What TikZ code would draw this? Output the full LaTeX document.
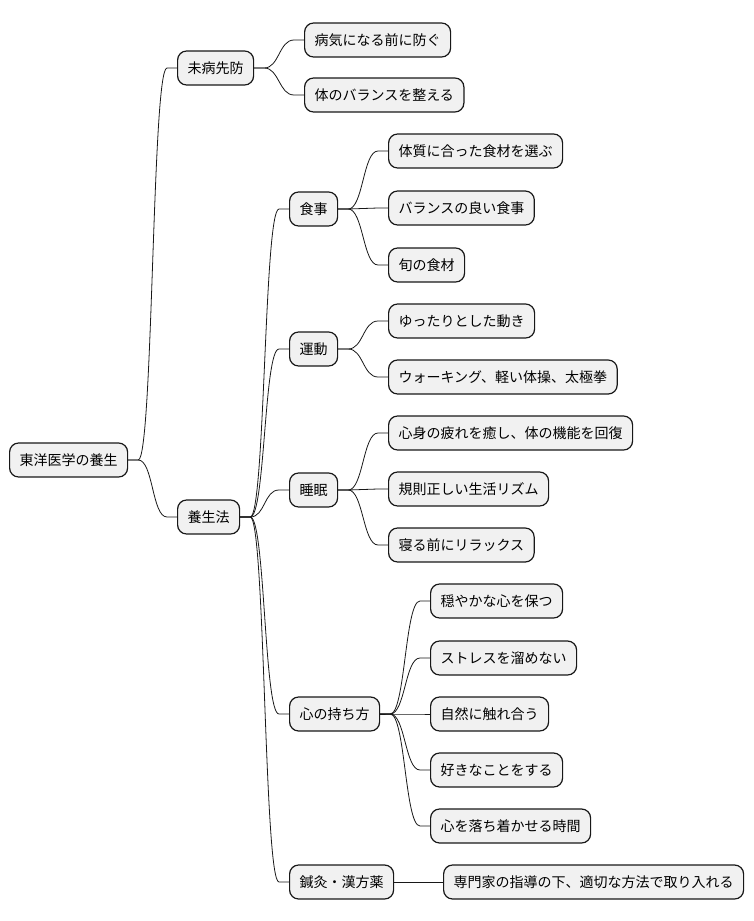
\documentclass[tikz,border=0pt]{standalone}
\usepackage{fontspec}
\setmainfont{Noto Sans CJK JP}
\definecolor{boxfill}{HTML}{F1F1F1}
\definecolor{boxline}{HTML}{181818}

\begin{document}
\begin{tikzpicture}[x=1pt,y=-1pt,
  main node/.style={draw=boxline,fill=boxfill,line width=1.2pt,rounded corners=9pt,
    anchor=west,minimum height=34pt,inner xsep=10pt,
    font=\fontsize{14pt}{16pt}\selectfont},
  branch/.style={draw=boxline,line width=0.8pt,
    to path={-- ++(10,0) .. controls +(15,0) and +(-15,0) .. ([xshift=-10pt]\tikztotarget.west) -- (\tikztotarget.west)}}]

  \useasboundingbox (0,0) rectangle (754,921);

  \node[main node] (0) at (9,460) {東洋医学の養生};

  \node[main node] (1) at (177,68) {未病先防};
  \node[main node] (2) at (177,517) {養生法};

  \node[main node] (11) at (304,40) {病気になる前に防ぐ};
  \node[main node] (12) at (304,95) {体のバランスを整える};

  \node[main node] (21) at (289,209) {食事};
  \node[main node] (22) at (289,349) {運動};
  \node[main node] (23) at (289,490) {睡眠};
  \node[main node] (24) at (289,714) {心の持ち方};
  \node[main node] (25) at (289,882) {鍼灸・漢方薬};

  \node[main node] (211) at (388,151) {体質に合った食材を選ぶ};
  \node[main node] (212) at (388,208) {バランスの良い食事};
  \node[main node] (213) at (388,265) {旬の食材};

  \node[main node] (221) at (388,321) {ゆったりとした動き};
  \node[main node] (222) at (388,377) {ウォーキング、軽い体操、太極拳};

  \node[main node] (231) at (388,433) {心身の疲れを癒し、体の機能を回復};
  \node[main node] (232) at (388,489) {規則正しい生活リズム};
  \node[main node] (233) at (388,545) {寝る前にリラックス};

  \node[main node] (241) at (430,601) {穏やかな心を保つ};
  \node[main node] (242) at (430,658) {ストレスを溜めない};
  \node[main node] (243) at (430,714) {自然に触れ合う};
  \node[main node] (244) at (430,770) {好きなことをする};
  \node[main node] (245) at (430,826) {心を落ち着かせる時間};

  \node[main node] (251) at (443,882) {専門家の指導の下、適切な方法で取り入れる};

  \path[branch]
    (0.east) edge (1)
             edge (2)
    (1.east) edge (11)
             edge (12)
    (2.east) edge (21)
             edge (22)
             edge (23)
             edge (24)
             edge (25)
    (21.east) edge (211)
              edge (212)
              edge (213)
    (22.east) edge (221)
              edge (222)
    (23.east) edge (231)
              edge (232)
              edge (233)
    (24.east) edge (241)
              edge (242)
              edge (243)
              edge (244)
              edge (245)
    (25.east) edge (251);
\end{tikzpicture}
\end{document}
